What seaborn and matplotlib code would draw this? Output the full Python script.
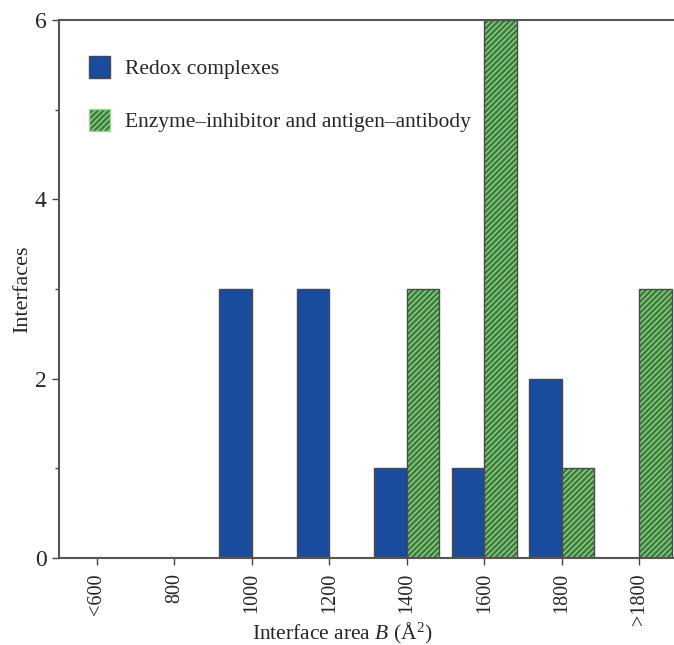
import matplotlib
matplotlib.use("Agg")
import matplotlib.pyplot as plt
from matplotlib.colors import to_rgba
from matplotlib.patches import Patch
from matplotlib.ticker import MultipleLocator
import seaborn as sns
import pandas as pd

# Interface-area bins and counts per complex class
bins = ["<600", "800", "1000", "1200", "1400", "1600", "1800", ">1800"]
redox = [0, 0, 3, 3, 1, 1, 2, 0]
enzyme_antibody = [0, 0, 0, 0, 3, 6, 1, 3]
series_names = ["Redox complexes", "Enzyme\u2013inhibitor and antigen\u2013antibody"]

df = pd.DataFrame({
    "bin": bins * 2,
    "count": redox + enzyme_antibody,
    "kind": [series_names[0]] * len(bins) + [series_names[1]] * len(bins),
})

sns.set_theme(style="ticks")
plt.rcParams["font.family"] = ["Liberation Serif", "DejaVu Serif"]
plt.rcParams["mathtext.fontset"] = "custom"
plt.rcParams["mathtext.rm"] = "Liberation Serif"
plt.rcParams["mathtext.it"] = "Liberation Serif:italic"
plt.rcParams["hatch.linewidth"] = 0.9

blue = "#1a4c9e"
green = "#3a7f3a"
hatch_col = "#a0d498"
edge = "#4a4a4a"

fig = plt.figure(figsize=(6.74, 6.45), dpi=100)
ax = fig.add_axes([0.0875, 0.135, 0.9125, 0.834])

sns.barplot(data=df, x="bin", y="count", hue="kind", order=bins,
            hue_order=series_names, palette=[blue, green], width=0.84,
            saturation=1.0, legend=False, ax=ax, edgecolor=edge, linewidth=1.0)

n = len(bins)
for i, p in enumerate(ax.patches):
    if i >= n:
        p.set_hatch("//////")
        p._hatch_color = to_rgba(hatch_col)

ax.set_xlim(-0.49, 7.45)
ax.set_ylim(0, 6)
ax.set_yticks([0, 2, 4, 6])
ax.yaxis.set_minor_locator(MultipleLocator(1))
ax.tick_params(axis="y", which="major", length=5, width=1, labelsize=17, pad=4, color="#444")
ax.tick_params(axis="y", which="minor", length=3, width=1, color="#444")
ax.tick_params(axis="x", which="major", length=5, width=1, labelsize=14.5, pad=6, color="#444",
               labelrotation=90)

for s in ["left", "bottom", "top"]:
    ax.spines[s].set_color("#555")
    ax.spines[s].set_linewidth(1.5)
ax.spines["right"].set_visible(False)

ax.set_ylabel("Interfaces", fontsize=16)
ax.yaxis.set_label_coords(-0.044, 0.5)
ax.set_xlabel(r"Interface area $\mathit{B}$ ($\mathrm{\AA}^2$)", fontsize=15.5)
ax.xaxis.set_label_coords(0.46, -0.117)

handles = [Patch(facecolor=blue, edgecolor=edge, label=series_names[0]),
           Patch(facecolor=green, edgecolor=hatch_col, hatch="//////", label=series_names[1])]
ax.legend(handles=handles, loc="upper left", bbox_to_anchor=(0.0, 0.99),
          frameon=False, fontsize=15.5, handlelength=0.98, handleheight=1.2,
          handletextpad=0.7, labelspacing=1.4, borderaxespad=1.0)

fig.savefig("out.png", dpi=100)
